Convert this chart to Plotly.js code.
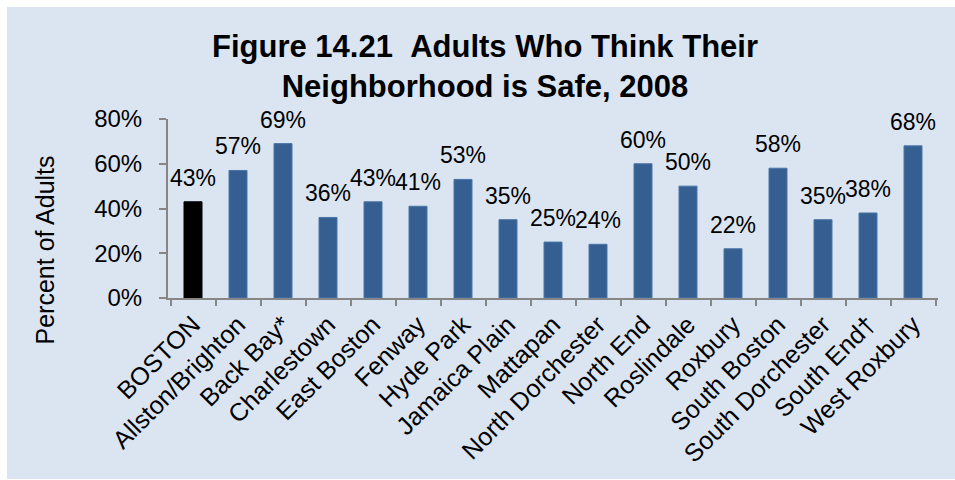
<!DOCTYPE html>
<html>
<head>
<meta charset="utf-8">
<script src="https://cdn.plot.ly/plotly-3.0.1.min.js"></script>
<style>
html,body{margin:0;padding:0;background:#ffffff;}
#chart{position:absolute;left:7px;top:7px;width:948px;height:472px;}
</style>
</head>
<body>
<div id="chart"></div>
<script>
const categories = ["BOSTON","Allston/Brighton","Back Bay*","Charlestown","East Boston","Fenway","Hyde Park","Jamaica Plain","Mattapan","North Dorchester","North End","Roslindale","Roxbury","South Boston","South Dorchester","South End\u2020","West Roxbury"];
const values = [43,57,69,36,43,41,53,35,25,24,60,50,22,58,35,38,68];
const labels = values.map(v => v + "%");
const yTicks = [0,20,40,60,80];
const yTickText = ["0%","20%","40%","60%","80%"];
const titleText = "<b>Figure 14.21\u00a0\u00a0Adults Who Think Their<br>Neighborhood is Safe, 2008</b>";
const yTitleText = "Percent of Adults";

const FONT = "Arial, 'Liberation Sans', sans-serif";
const colors = categories.map((c,i) => i === 0 ? "#000000" : "#365f91");
const lineColors = categories.map((c,i) => i === 0 ? "#000000" : "#4a75a8");

const trace = {
  type: "bar",
  x: categories,
  y: values,
  marker: {color: colors, line: {color: lineColors, width: 1}},
  hoverinfo: "skip"
};

const annotations = categories.map((c,i) => ({
  x: c, y: values[i], xref: "x", yref: "y",
  text: labels[i], showarrow: false,
  yanchor: "middle", xanchor: "center", yshift: 24,
  font: {family: FONT, size: 23, color: "#000000"}
}));

annotations.push({
  xref: "paper", yref: "paper", x: -0.160, y: 0.27,
  text: yTitleText, textangle: -90, showarrow: false,
  xanchor: "center", yanchor: "middle",
  font: {family: FONT, size: 25, color: "#000000"}
});

annotations.push({
  xref: "paper", yref: "paper", x: 0.412, y: 1.296,
  text: titleText, showarrow: false,
  xanchor: "center", yanchor: "middle", align: "center",
  font: {family: FONT, size: 31, color: "#000000"}
});

const layout = {
  width: 948, height: 472,
  paper_bgcolor: "#dbe5f1",
  plot_bgcolor: "rgba(0,0,0,0)",
  margin: {l: 161, r: 17, t: 112, b: 181, pad: 0},
  showlegend: false,
  bargap: 0.6,
  xaxis: {
    type: "category",
    tickangle: -45,
    tickson: "boundaries",
    ticks: "outside", ticklen: 6, tickcolor: "#868686", tickwidth: 2,
    showline: true, linecolor: "#868686", linewidth: 2,
    showgrid: false,
    tickfont: {family: FONT, size: 25, color: "#000000"},
    fixedrange: true
  },
  yaxis: {
    range: [0, 80],
    tickvals: yTicks, ticktext: yTickText,
    ticks: "outside", ticklen: 7, tickcolor: "#868686", tickwidth: 2,
    showline: true, linecolor: "#868686", linewidth: 2,
    showgrid: false, zeroline: false,
    ticklabelstandoff: 12,
    tickfont: {family: FONT, size: 24, color: "#000000"},
    fixedrange: true
  },
  annotations: annotations
};

Plotly.newPlot("chart", [trace], layout, {displayModeBar: false, staticPlot: true});
</script>
</body>
</html>
